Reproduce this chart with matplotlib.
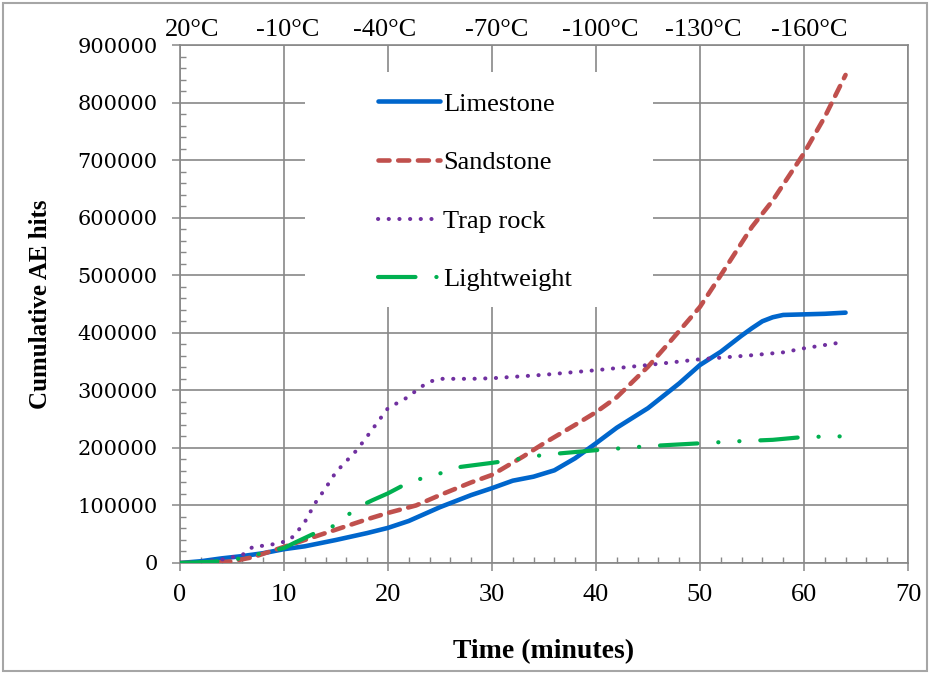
import matplotlib
matplotlib.use("Agg")
import matplotlib.pyplot as plt
from matplotlib.patches import Rectangle
from matplotlib.ticker import MultipleLocator, FormatStrFormatter

# cumulative AE hits (time in minutes)
lime_t = [0, 2, 4, 6, 8, 10, 12, 15, 18, 20, 22, 25, 28, 30, 32, 34, 36, 38, 40,
          42, 45, 48, 50, 52, 54, 55, 56, 57, 58, 60, 62, 64]
lime_hits = [0, 3000, 8000, 12000, 17000, 24000, 29000, 40000, 52000, 61000, 73000,
             97000, 118000, 130000, 143000, 150000, 161000, 182000, 208000, 235000,
             269000, 312000, 344000, 367000, 395000, 408000, 420000, 427000, 431000,
             432000, 433000, 435000]

sand_t = [0, 3, 5, 7, 9, 10, 12, 15, 18, 20, 22.7, 25, 28, 30, 33, 35, 38, 40, 42,
          45, 47, 50, 52, 55, 57, 60, 62, 64]
sand_hits = [0, 0, 3000, 10000, 22000, 28000, 40000, 58000, 76000, 87000, 100000,
             118000, 140000, 153000, 185000, 208000, 240000, 262000, 288000, 341000,
             382000, 445000, 500000, 584000, 630000, 712000, 775000, 848000]

trap_t = [0, 2, 4, 6, 7, 8, 9.5, 10.5, 11, 12, 13, 14, 15, 17, 18, 20, 22, 23, 24,
          25, 28, 30, 35, 40, 45, 50, 55, 58, 60, 63.5]
trap_hits = [0, 2000, 6000, 14000, 28000, 30000, 34000, 40000, 48000, 71000, 104000,
             130000, 158000, 196000, 220000, 269000, 289000, 304000, 315000, 320000,
             320000, 321000, 327000, 335000, 344000, 354000, 361000, 366000, 373000,
             383000]

light_t = [0, 3, 5, 7, 9, 10, 11, 13, 15, 17, 18.5, 20, 22, 24, 25.5, 27, 30, 32,
           35, 40, 45, 50, 53, 57, 60, 63.5]
light_hits = [0, 2000, 5000, 13000, 22000, 26000, 35000, 52000, 66000, 96000, 109000,
              121000, 140000, 151000, 158000, 167000, 174000, 179000, 188000, 196000,
              203000, 208000, 211000, 214000, 219000, 220000]

# temperature markers along the top
temp_t = [1.2, 10.4, 19.7, 30.5, 40.4, 50.3, 60.5]
temp_labels = ["20°C", "-10°C", "-40°C", "-70°C", "-100°C", "-130°C", "-160°C"]

serif = ["Liberation Serif", "DejaVu Serif"]
grid_c = "#888888"

fig = plt.figure(figsize=(9.3, 6.74), dpi=100)
ax = fig.add_axes([0.1935, 0.1647, 0.7828, 0.7685])

ax.plot(lime_t, lime_hits, color="#0066CC", lw=3.3, label="Limestone",
        solid_capstyle="round", solid_joinstyle="round", zorder=3)
ax.plot(sand_t, sand_hits, color="#C0504D", lw=3.3, linestyle=(0, (2.4, 1.9)),
        dash_capstyle="round", label="Sandstone", zorder=3)
ax.plot(trap_t, trap_hits, color="#7030A0", lw=2.9, linestyle=(0, (0.05, 2.6)),
        dash_capstyle="round", label="Trap rock", zorder=3)
ax.plot(light_t, light_hits, color="#00B050", lw=3.0, dash_capstyle="round",
        linestyle=(0, (9, 5, 0.05, 5, 0.05, 5)), label="Lightweight", zorder=3)

ax.set_xlim(0, 70)
ax.set_ylim(0, 900000)
ax.xaxis.set_major_locator(MultipleLocator(10))
ax.xaxis.set_minor_locator(MultipleLocator(2))
ax.yaxis.set_major_locator(MultipleLocator(100000))
ax.yaxis.set_minor_locator(MultipleLocator(20000))
ax.yaxis.set_major_formatter(FormatStrFormatter("%d"))

ax.set_axisbelow(True)
ax.grid(True, which="major", color=grid_c, lw=1.2)
for s in ax.spines.values():
    s.set_color(grid_c)
    s.set_linewidth(1.2)

ax.tick_params(which="major", direction="out", length=6, width=1.1, color=grid_c)
ax.tick_params(which="minor", direction="in", length=4, width=1.0, color=grid_c)
ax.tick_params(axis="x", which="major", pad=9)
ax.tick_params(axis="y", which="major", pad=10)
for lab in ax.get_xticklabels():
    lab.set_family(serif)
    lab.set_fontsize(19)
for lab in ax.get_yticklabels():
    lab.set_family("DejaVu Serif")
    lab.set_fontsize(15)

ax.set_xlabel("Time (minutes)", family=serif, fontsize=20, fontweight="bold",
              labelpad=24)
ax.set_ylabel("Cumulative AE hits", family=serif, fontsize=18, fontweight="bold",
              labelpad=18)

for t, lab in zip(temp_t, temp_labels):
    ax.text(t, 1.029, lab, transform=ax.get_xaxis_transform(), ha="center",
            va="center", family=serif, fontsize=19)

# white box behind legend hides gridlines
ax.add_patch(Rectangle((0.172, 0.494), 0.478, 0.454, transform=ax.transAxes,
                       facecolor="white", edgecolor="none", zorder=1))
ax.legend(loc="upper left", bbox_to_anchor=(0.272, 0.909), frameon=False,
          borderpad=0, borderaxespad=0, handlelength=2.35, handletextpad=0.12,
          labelspacing=1.33, prop={"family": serif, "size": 19})

fig.add_artist(Rectangle((0.003, 0.004), 0.994, 0.992, transform=fig.transFigure,
                         fill=False, edgecolor="#a6a6a6", lw=1.5))

fig.savefig("out.png", dpi=100)
